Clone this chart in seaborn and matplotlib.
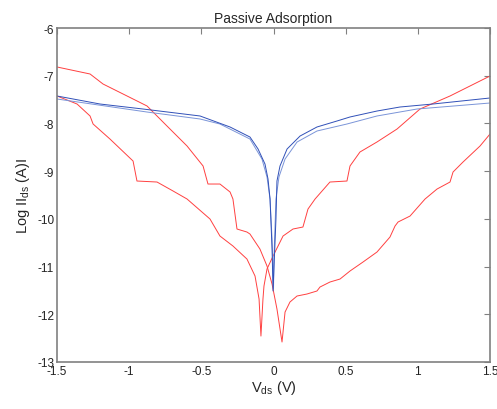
import matplotlib
matplotlib.use("Agg")
import matplotlib.pyplot as plt
import seaborn as sns
import pandas as pd

# Blue curve A (darker)
blue_a_v = [-1.5, -1.202, -0.904, -0.509, -0.301, -0.163, -0.107, -0.059, -0.038, -0.024, -0.010, -0.003,
            0.003, 0.017, 0.024, 0.045, 0.094, 0.184, 0.301, 0.440, 0.530, 0.717, 0.876, 1.105, 1.5]
blue_a_i = [-7.425, -7.593, -7.698, -7.844, -8.075, -8.285, -8.536, -8.851, -9.165, -9.584, -10.632, -11.512,
            -11.05, -10.0, -9.207, -8.892, -8.536, -8.264, -8.075, -7.949, -7.865, -7.740, -7.656, -7.593, -7.467]

# Blue curve B (lighter)
blue_b_v = [-1.5, -0.876, -0.509, -0.371, -0.163, -0.080, -0.045, -0.024, -0.010, 0.0,
            0.003, 0.010, 0.017, 0.038, 0.080, 0.163, 0.301, 0.509, 0.717, 0.994, 1.5]
blue_b_i = [-7.488, -7.761, -7.907, -8.012, -8.327, -8.746, -9.123, -9.584, -10.423, -11.47,
            -10.84, -10.21, -9.584, -9.12, -8.746, -8.39, -8.159, -8.012, -7.844, -7.698, -7.572]

# Red curve 1 (upper-left -> dip near +0.06 -> lower-right)
red1_v = [-1.5, -1.271, -1.181, -0.973, -0.876, -0.738, -0.599, -0.488, -0.454, -0.371, -0.301, -0.281,
          -0.253, -0.184, -0.163, -0.094, -0.045, -0.010, 0.024, 0.059, 0.080, 0.114, 0.163, 0.232, 0.301,
          0.322, 0.391, 0.461, 0.530, 0.620, 0.717, 0.807, 0.842, 0.863, 0.946, 1.050, 1.133, 1.223, 1.244,
          1.313, 1.431, 1.5]
red1_i = [-6.817, -6.964, -7.174, -7.488, -7.635, -8.054, -8.473, -8.892, -9.270, -9.270, -9.437, -9.584,
          -10.213, -10.276, -10.318, -10.632, -10.988, -11.366, -11.890, -12.581, -11.953, -11.743, -11.617,
          -11.575, -11.512, -11.429, -11.324, -11.261, -11.093, -10.905, -10.695, -10.381, -10.150, -10.066,
          -9.941, -9.584, -9.375, -9.228, -9.018, -8.809, -8.473, -8.222]

# Red curve 2 (lower-left -> dip near -0.08 -> upper-right)
red2_v = [-1.5, -1.361, -1.271, -1.250, -1.133, -0.973, -0.946, -0.807, -0.696, -0.599, -0.440, -0.371,
          -0.281, -0.184, -0.128, -0.100, -0.087, -0.073, -0.066, -0.045, -0.003, 0.066, 0.135, 0.204,
          0.239, 0.288, 0.391, 0.509, 0.530, 0.599, 0.717, 0.856, 1.015, 1.223, 1.5]
red2_i = [-7.425, -7.593, -7.844, -8.012, -8.327, -8.788, -9.207, -9.228, -9.416, -9.584, -10.003, -10.360,
          -10.569, -10.842, -11.198, -11.680, -12.456, -11.680, -11.408, -11.051, -10.779, -10.360, -10.213,
          -10.171, -9.794, -9.584, -9.228, -9.207, -8.892, -8.599, -8.389, -8.117, -7.698, -7.425, -7.006]

x_ticks = [-1.5, -1, -0.5, 0, 0.5, 1, 1.5]
x_tick_labels = ["-1.5", "-1", "-0.5", "0", "0.5", "1", "1.5"]
y_ticks = [-13, -12, -11, -10, -9, -8, -7, -6]
y_tick_labels = ["-13", "-12", "-11", "-10", "-9", "-8", "-7", "-6"]

sns.set_style("white")
plt.rcParams['font.family'] = ['Liberation Sans', 'DejaVu Sans']

fig = plt.figure(figsize=(4.97, 4.10), dpi=100)
ax = fig.add_axes([57/497, 1 - 363/410, (490 - 57)/497, (363 - 29)/410])

curves = [
    (red1_v, red1_i, "#ff4040"),
    (red2_v, red2_i, "#ff4040"),
    (blue_b_v, blue_b_i, "#7a94d8"),
    (blue_a_v, blue_a_i, "#3050b8"),
]
for v, i, c in curves:
    df = pd.DataFrame({"V": v, "I": i})
    sns.lineplot(data=df, x="V", y="I", ax=ax, sort=False, estimator=None,
                 color=c, linewidth=0.7)

ax.set_xlim(-1.5, 1.5)
ax.set_ylim(-13, -6)
ax.set_xticks(x_ticks)
ax.set_xticklabels(x_tick_labels)
ax.set_yticks(y_ticks)
ax.set_yticklabels(y_tick_labels)
ax.tick_params(direction="in", length=4, width=0.8, color="#808080",
               top=True, right=True, labelsize=8.5, labelcolor="#222222", pad=2)
for s in ax.spines.values():
    s.set_visible(True)
    s.set_color("#808080")
    s.set_linewidth(1.2)

ax.set_title("Passive Adsorption", fontsize=10, pad=4)
ax.set_xlabel("V$_{\\mathregular{ds}}$ (V)", fontsize=10.5, labelpad=1)
ax.set_ylabel("Log II$_{\\mathregular{ds}}$ (A)I", fontsize=10.5, labelpad=4)

fig.savefig("out.png", dpi=100)
